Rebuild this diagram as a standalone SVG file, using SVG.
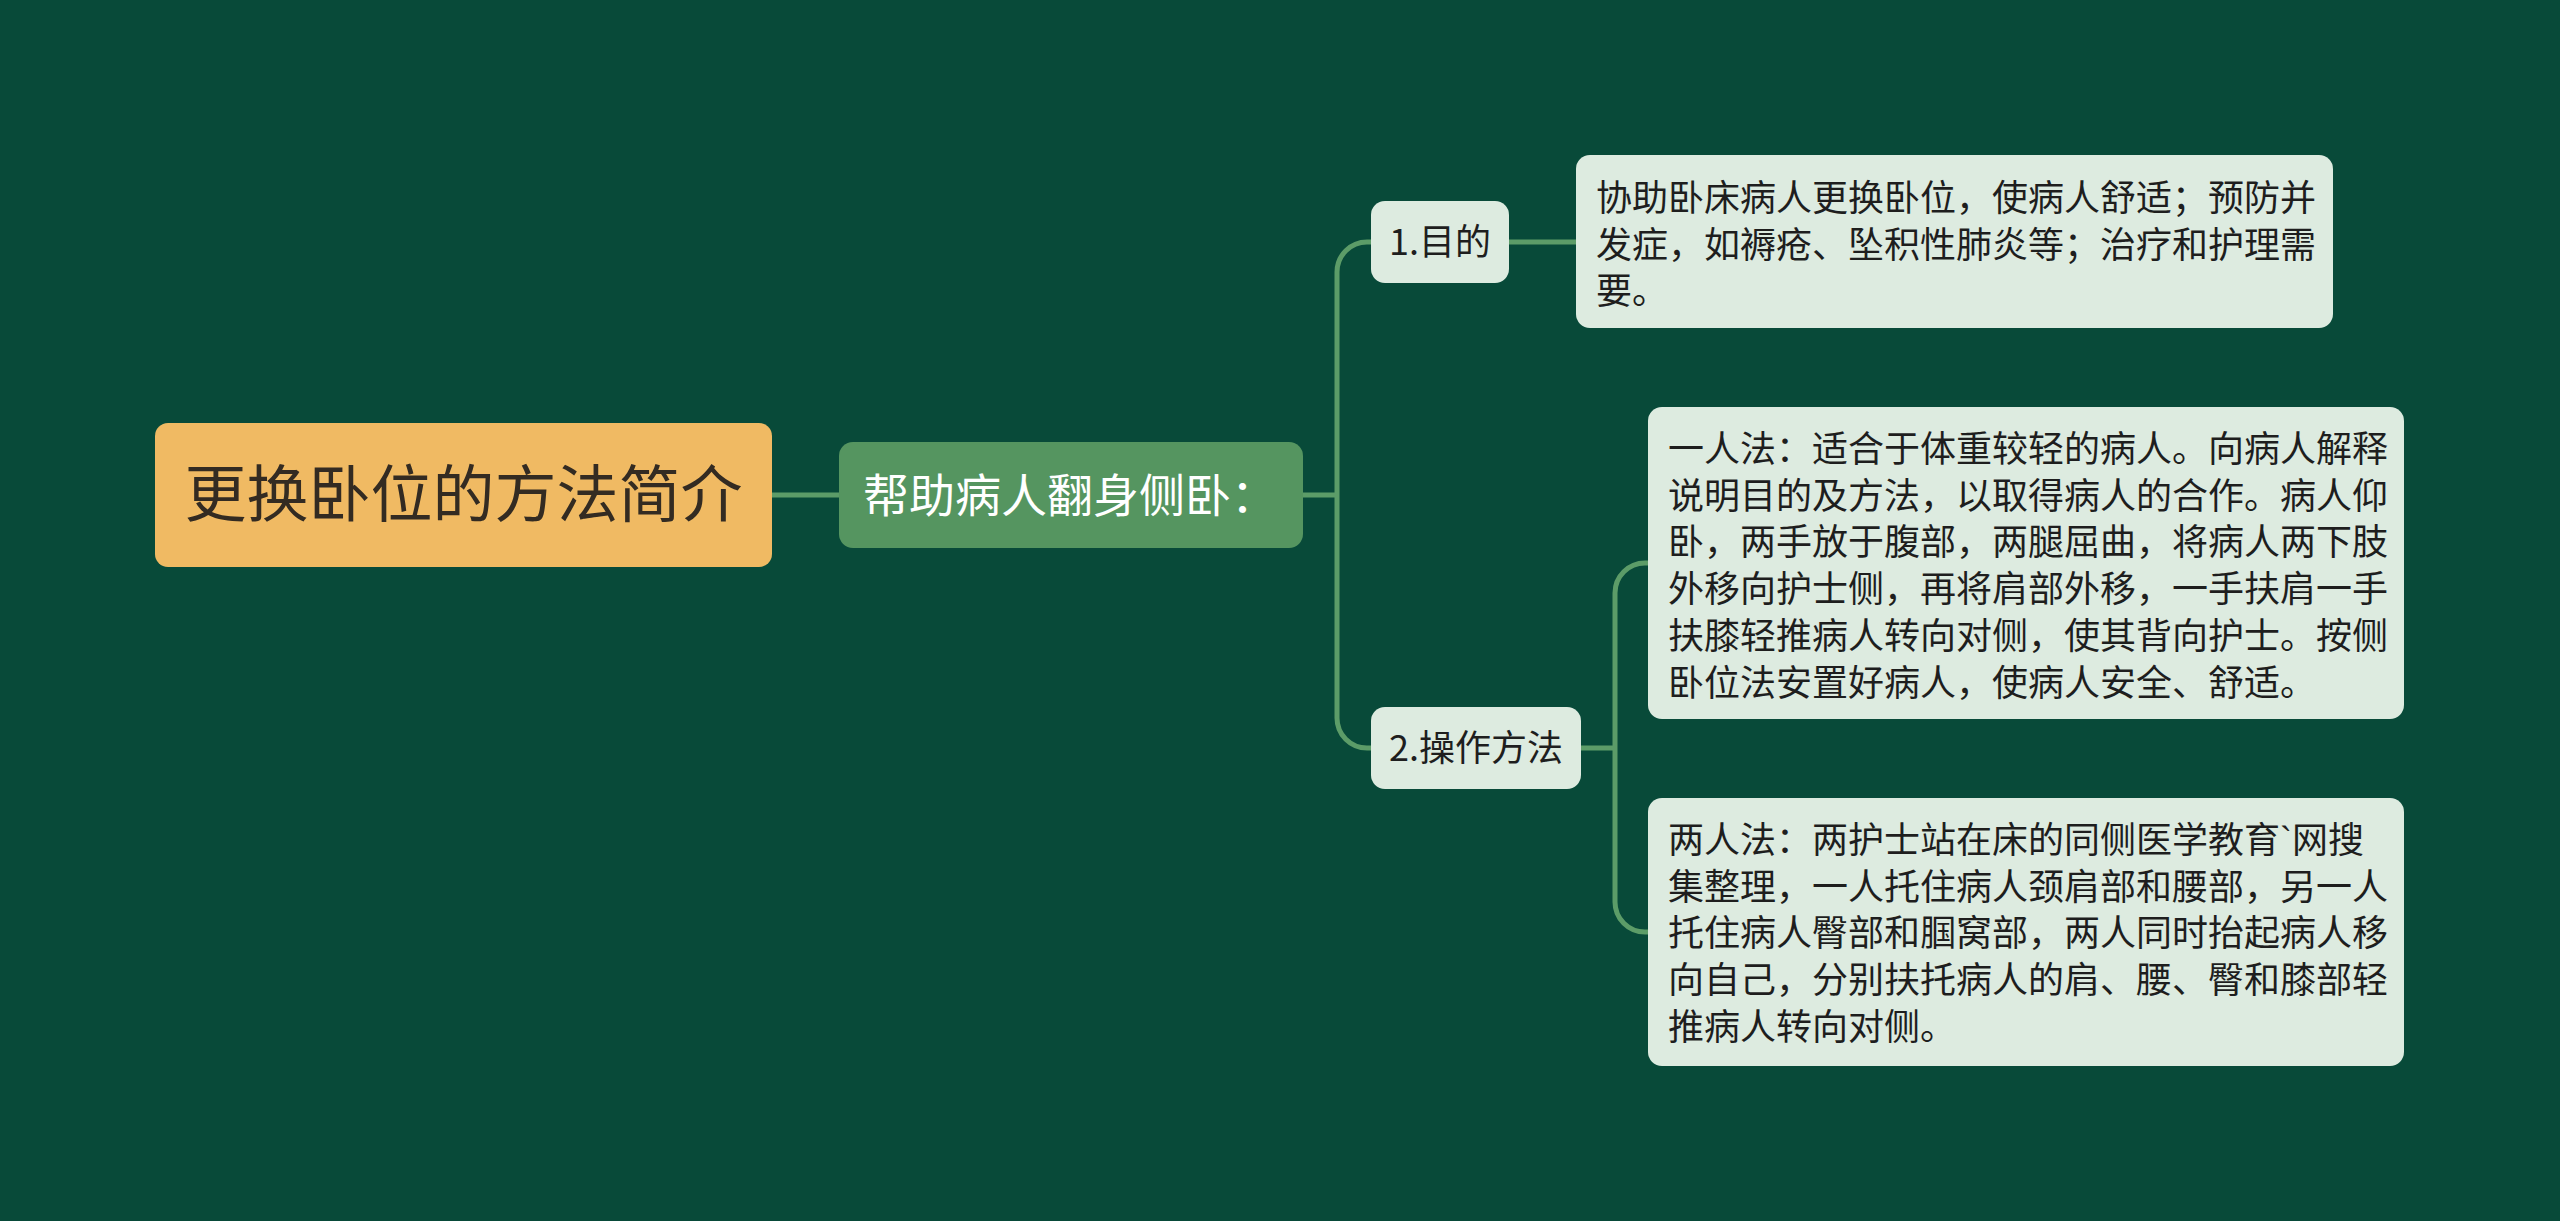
<svg xmlns="http://www.w3.org/2000/svg" width="2560" height="1221" viewBox="0 0 2560 1221">
<style>
text { font-family: "Noto Sans CJK SC", "Noto Sans", sans-serif; }
.conn { fill: none; stroke: #5c9c68; stroke-width: 5; stroke-linecap: butt; }
.root rect { fill: #f0ba63; }
.root text { fill: #332b22; font-size: 62px; }
.main rect { fill: #559560; }
.main text { fill: #ffffff; font-size: 46px; }
.leaf rect { fill: #ddebe0; }
.leaf text { fill: #1e1e1e; font-size: 36px; }
.leaf text.para { font-family: "Liberation Sans", "Noto Sans CJK SC", sans-serif; }
</style>
<rect x="0" y="0" width="2560" height="1221" fill="#084a39"/>
<g id="connectors">
  <path class="conn" d="M772,495 H839"/>
  <path class="conn" d="M1303,495 H1337"/>
  <path class="conn" d="M1371,242 H1367 A30,30 0 0 0 1337,272 V718 A30,30 0 0 0 1367,748 H1371"/>
  <path class="conn" d="M1509,242 H1576"/>
  <path class="conn" d="M1581,748 H1615"/>
  <path class="conn" d="M1648,563 H1645 A30,30 0 0 0 1615,593 V902 A30,30 0 0 0 1645,932 H1648"/>
</g>
<g id="root" class="root">
  <rect x="155" y="423" width="617" height="144" rx="13"/>
  <text x="463.5" y="517" text-anchor="middle">更换卧位的方法简介</text>
</g>
<g id="main" class="main">
  <rect x="839" y="442" width="464" height="106" rx="14"/>
  <text x="863" y="512">帮助病人翻身侧卧：</text>
</g>
<g id="purpose" class="leaf">
  <rect x="1371" y="201" width="138" height="82" rx="14"/>
  <text x="1440" y="255" text-anchor="middle">1.目的</text>
</g>
<g id="method" class="leaf">
  <rect x="1371" y="707" width="210" height="82" rx="14"/>
  <text x="1476" y="761" text-anchor="middle">2.操作方法</text>
</g>
<g id="purpose-detail" class="leaf">
  <rect x="1576" y="155" width="757" height="173" rx="14"/>
  <text class="para" x="1596" y="211">协助卧床病人更换卧位，使病人舒适；预防并</text>
  <text class="para" x="1596" y="257.5">发症，如褥疮、坠积性肺炎等；治疗和护理需</text>
  <text class="para" x="1596" y="304">要。</text>
</g>
<g id="one-person" class="leaf">
  <rect x="1648" y="407" width="756" height="312" rx="14"/>
  <text class="para" x="1668" y="462">一人法：适合于体重较轻的病人。向病人解释</text>
  <text class="para" x="1668" y="508.7">说明目的及方法，以取得病人的合作。病人仰</text>
  <text class="para" x="1668" y="555.4">卧，两手放于腹部，两腿屈曲，将病人两下肢</text>
  <text class="para" x="1668" y="602.1">外移向护士侧，再将肩部外移，一手扶肩一手</text>
  <text class="para" x="1668" y="648.8">扶膝轻推病人转向对侧，使其背向护士。按侧</text>
  <text class="para" x="1668" y="695.5">卧位法安置好病人，使病人安全、舒适。</text>
</g>
<g id="two-person" class="leaf">
  <rect x="1648" y="798" width="756" height="268" rx="14"/>
  <text class="para" x="1668" y="853">两人法：两护士站在床的同侧医学教育`网搜</text>
  <text class="para" x="1668" y="899.7">集整理，一人托住病人颈肩部和腰部，另一人</text>
  <text class="para" x="1668" y="946.4">托住病人臀部和腘窝部，两人同时抬起病人移</text>
  <text class="para" x="1668" y="993.1">向自己，分别扶托病人的肩、腰、臀和膝部轻</text>
  <text class="para" x="1668" y="1039.8">推病人转向对侧。</text>
</g>
</svg>
